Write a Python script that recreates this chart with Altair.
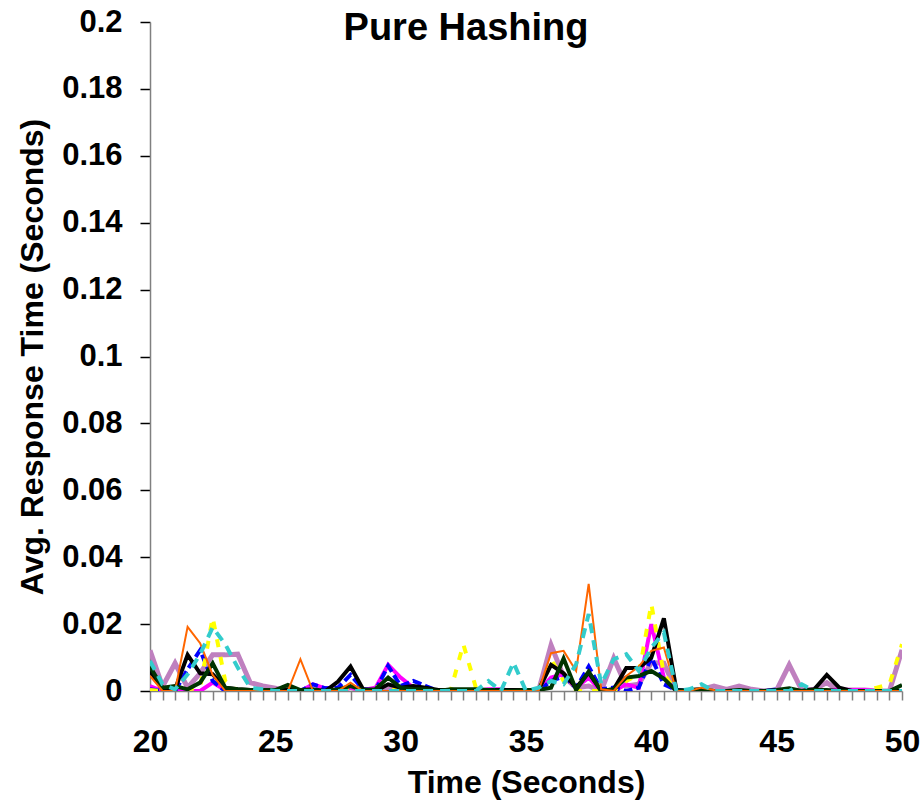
import altair as alt
import pandas as pd

# Time points (seconds)
times = [20.0, 20.5, 21.0, 21.5, 22.0, 22.5, 23.0, 23.5, 24.0, 24.5,
         25.0, 25.5, 26.0, 26.5, 27.0, 27.5, 28.0, 28.5, 29.0, 29.5,
         30.0, 30.5, 31.0, 31.5, 32.0, 32.5, 33.0, 33.5, 34.0, 34.5,
         35.0, 35.5, 36.0, 36.5, 37.0, 37.5, 38.0, 38.5, 39.0, 39.5,
         40.0, 40.5, 41.0, 41.5, 42.0, 42.5, 43.0, 43.5, 44.0, 44.5,
         45.0, 45.5, 46.0, 46.5, 47.0, 47.5, 48.0, 48.5, 49.0, 49.5, 50.0]

lilac = [0.0122, 0.0013, 0.0083, 0.001, 0.0053, 0.0108, 0.0108, 0.011, 0.0025, 0.0015,
         0.0008, 0.0, 0.0, 0.0, 0.0, 0.0, 0.001, 0.0, 0.0005, 0.001,
         0.0005, 0.0, 0.0, 0.0, 0.0, 0.0, 0.0, 0.0, 0.0, 0.0,
         0.0, 0.0, 0.0137, 0.0043, 0.001, 0.0015, 0.0, 0.0098, 0.0015, 0.002,
         0.0085, 0.0083, 0.0, 0.0, 0.0005, 0.0015, 0.0005, 0.0015, 0.0005, 0.0,
         0.0003, 0.0078, 0.0003, 0.0005, 0.0025, 0.0, 0.0003, 0.0003, 0.0, 0.0, 0.0123]

magenta = [0.0015, 0.0, 0.0, 0.0, 0.0, 0.0025, 0.0003, 0.0, 0.0, 0.0,
           0.0, 0.0, 0.0, 0.002, 0.0008, 0.0, 0.001, 0.0003, 0.001, 0.0078,
           0.004, 0.001, 0.0005, 0.0, 0.0, 0.0, 0.0, 0.0005, 0.0005, 0.0,
           0.0, 0.0, 0.004, 0.005, 0.001, 0.004, 0.0, 0.0, 0.002, 0.001,
           0.02, 0.004, 0.0, 0.0, 0.0, 0.0, 0.0, 0.0, 0.0, 0.0,
           0.0, 0.0, 0.0, 0.0, 0.0, 0.0005, 0.0003, 0.0003, 0.0, 0.0, 0.0]

blue = [0.0005, 0.0, 0.0, 0.0065, 0.0122, 0.003, 0.0, 0.0, 0.0, 0.0,
        0.0, 0.0, 0.0, 0.002, 0.0008, 0.001, 0.0048, 0.0005, 0.0003, 0.0075,
        0.0015, 0.003, 0.0015, 0.0, 0.0, 0.0, 0.0, 0.0, 0.0, 0.0,
        0.0, 0.0, 0.003, 0.0043, 0.001, 0.0073, 0.0005, 0.001, 0.0, 0.001,
        0.01, 0.002, 0.0003, 0.0, 0.0, 0.0, 0.0, 0.0, 0.0, 0.0,
        0.0005, 0.0, 0.0, 0.0, 0.0, 0.0, 0.0, 0.0, 0.0, 0.0, 0.0]

yellow = [0.0003, 0.0, 0.0, 0.0005, 0.001, 0.022, 0.003, 0.0, 0.0, 0.0,
          0.0, 0.0, 0.0, 0.0, 0.0, 0.0005, 0.001, 0.0, 0.001, 0.002,
          0.0, 0.0, 0.0, 0.0, 0.0003, 0.014, 0.001, 0.0, 0.0, 0.0,
          0.0, 0.0, 0.0095, 0.003, 0.0, 0.0, 0.0, 0.0, 0.003, 0.005,
          0.026, 0.005, 0.0, 0.0, 0.0, 0.0, 0.0, 0.0, 0.0, 0.0,
          0.0, 0.0, 0.0, 0.0, 0.0, 0.0, 0.0, 0.0, 0.001, 0.002, 0.014]

black = [0.006, 0.0005, 0.0005, 0.0108, 0.0053, 0.005, 0.001, 0.0005, 0.0003, 0.0003,
         0.0003, 0.0005, 0.0, 0.0, 0.0, 0.0028, 0.0073, 0.0005, 0.0, 0.002,
         0.001, 0.0015, 0.001, 0.0003, 0.0003, 0.0003, 0.0003, 0.0003, 0.0003, 0.0003,
         0.0003, 0.0003, 0.0078, 0.0053, 0.001, 0.0055, 0.0, 0.0005, 0.0069, 0.0069,
         0.01, 0.0217, 0.0003, 0.0, 0.0, 0.0, 0.0, 0.0, 0.0, 0.0,
         0.0, 0.0, 0.0, 0.0005, 0.0048, 0.001, 0.0, 0.0, 0.0, 0.0, 0.0]

dark_green = [0.0073, 0.001, 0.0015, 0.0005, 0.0025, 0.0083, 0.001, 0.0005, 0.0003, 0.0003,
              0.0003, 0.0018, 0.0003, 0.0005, 0.0, 0.0005, 0.0015, 0.0003, 0.0005, 0.004,
              0.001, 0.0005, 0.0005, 0.0, 0.0005, 0.0005, 0.0005, 0.0003, 0.0, 0.0,
              0.0003, 0.0003, 0.001, 0.0097, 0.0003, 0.0058, 0.0, 0.0005, 0.004, 0.0045,
              0.006, 0.0037, 0.0, 0.0003, 0.0005, 0.0, 0.0, 0.0003, 0.0, 0.0,
              0.0003, 0.0008, 0.0, 0.0003, 0.0003, 0.0, 0.0, 0.0, 0.0, 0.0, 0.0018]

orange = [0.0045, 0.0, 0.0, 0.0192, 0.0143, 0.0048, 0.0, 0.0, 0.0, 0.0,
          0.0, 0.0, 0.0095, 0.0, 0.0, 0.0, 0.0025, 0.0, 0.0, 0.0,
          0.0, 0.0, 0.0, 0.0, 0.0, 0.0, 0.0, 0.0, 0.0, 0.0,
          0.0, 0.0, 0.0113, 0.012, 0.006, 0.032, 0.0005, 0.0, 0.0045, 0.0073,
          0.012, 0.013, 0.0, 0.0, 0.001, 0.0003, 0.0, 0.0, 0.0, 0.0,
          0.0, 0.0, 0.0, 0.0, 0.0, 0.0, 0.0, 0.0, 0.0, 0.0, 0.0]

cyan = [0.009, 0.002, 0.0005, 0.005, 0.011, 0.019, 0.014, 0.007, 0.001, 0.0005,
        0.0, 0.0, 0.0, 0.0, 0.0, 0.0, 0.0, 0.0, 0.0, 0.0,
        0.0, 0.0, 0.0, 0.0, 0.0, 0.0, 0.0, 0.003, 0.0, 0.0085,
        0.0, 0.001, 0.003, 0.002, 0.008, 0.023, 0.002, 0.0095, 0.011, 0.006,
        0.013, 0.0175, 0.0, 0.0005, 0.002, 0.0, 0.0, 0.0, 0.0, 0.0,
        0.0, 0.0, 0.002, 0.0, 0.0, 0.0, 0.0, 0.0, 0.0, 0.0, 0.0]

y_ticks = [0, 0.02, 0.04, 0.06, 0.08, 0.1, 0.12, 0.14, 0.16, 0.18, 0.2]

# (values, color, width, dash) in drawing order (bottom to top)
series = [
    (lilac, "#BF80BF", 5, None),
    (magenta, "#FF00FF", 4, None),
    (blue, "#0000FF", 4, [9, 4]),
    (yellow, "#FFFF00", 4, [8, 10]),
    (black, "#000000", 4, None),
    (dark_green, "#003300", 4, None),
    (orange, "#FF6600", 2, None),
    (cyan, "#33CCCC", 4, [10, 7]),
]

FONT = "Liberation Sans"

x_enc = alt.X(
    "t:Q",
    scale=alt.Scale(domain=[20, 50], nice=False, zero=False),
    axis=alt.Axis(
        values=times,
        labelExpr="datum.value % 5 == 0 ? format(datum.value, 'd') : ''",
        title="Time (Seconds)",
        tickSize=9, tickColor="#808080", tickWidth=1.5,
        domainColor="#808080", domainWidth=1.5,
        labelFont=FONT, labelFontWeight="bold", labelFontSize=32,
        labelColor="black", labelPadding=26, labelFlush=False,
        labelOverlap=False,
        titleFont=FONT, titleFontWeight="bold", titleFontSize=32,
        titleColor="black", titlePadding=10,
    ),
)
y_enc = alt.Y(
    "v:Q",
    scale=alt.Scale(domain=[0, 0.2], nice=False),
    axis=alt.Axis(
        values=y_ticks, format="~g",
        title="Avg. Response Time (Seconds)",
        tickSize=10, tickColor="black", tickWidth=1.5,
        domainColor="#808080", domainWidth=1.5,
        labelFont=FONT, labelFontWeight="bold", labelFontSize=31,
        labelColor="black", labelPadding=18,
        titleFont=FONT, titleFontWeight="bold", titleFontSize=32,
        titleColor="black", titlePadding=12,
    ),
)

layers = []
for vals, color, width, dash in series:
    df = pd.DataFrame({"t": times, "v": vals})
    kw = dict(color=color, strokeWidth=width, clip=True, strokeJoin="miter")
    if dash:
        kw["strokeDash"] = dash
    layers.append(alt.Chart(df).mark_line(**kw).encode(x=x_enc, y=y_enc))

chart = alt.layer(*layers).properties(
    width=752,
    height=669,
    padding={"left": 150, "top": 22, "right": 22, "bottom": 109},
    autosize=alt.AutoSizeParams(type="none"),
    title=alt.TitleParams(
        "Pure Hashing", font=FONT, fontWeight="bold", fontSize=38,
        color="black", anchor="middle", dx=-60, offset=-18, dy=24,
    ),
).configure_view(stroke=None).configure_axis(grid=False)

chart.save("out.html", embed_options={"renderer": "svg", "actions": False})
